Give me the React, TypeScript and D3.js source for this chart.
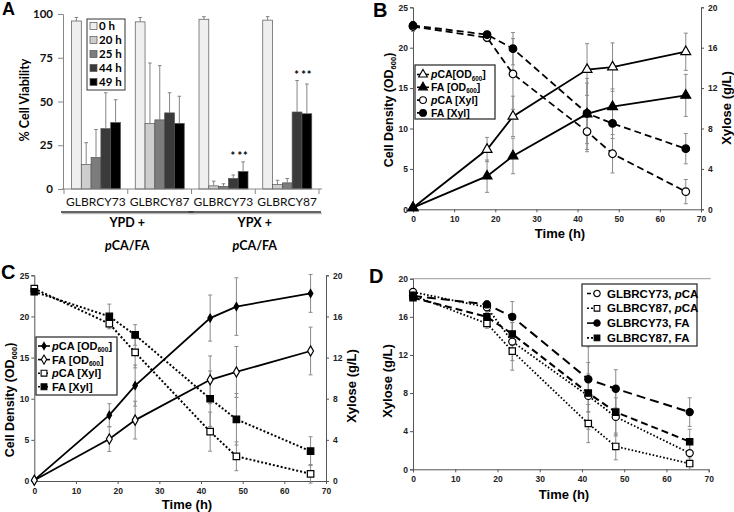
import React, { useEffect, useRef } from "react";
import * as d3 from "d3";

// ---- panel A: cell viability ----
const strainLabels = ["GLBRCY73", "GLBRCY87", "GLBRCY73", "GLBRCY87"];
const timeLabels = ["0 h", "20 h", "25 h", "44 h", "49 h"];
const viability = [
  [96, 14, 18, 34.5, 38],
  [95.5, 37.5, 39.5, 43.5, 37.5],
  [97, 1.8, 1.5, 6, 10],
  [96.5, 2.5, 3.5, 44, 43],
];
const viabilityErrTop = [
  [98, 26.5, 34, 55, 51],
  [98, 72, 70.5, 55, 53],
  [98.5, 4.5, 3, 8, 15.5],
  [98.5, 5, 6, 62, 60],
];
const barColors = ["#efefef", "#cdcdcd", "#7c7c7c", "#3a3a3a", "#000000"];
const starGroups = [2, 3];
const starText = ["", "", "", "*", "**"];
const mediaLabels = [["YPD +", "pCA/FA"], ["YPX +", "pCA/FA"]];
const viabilityTicks = [0, 25, 50, 75, 100];

// ---- panel B ----
const timeB = [0, 18, 24.3, 42.3, 48.5, 66.3];
const odB_pCA = [0.2, 7.4, 11.5, 17.3, 17.6, 19.5];
const odB_pCA_err = [0, 1.5, 2.5, 3.2, 3.0, 2.3];
const odB_FA = [0.2, 4.1, 6.6, 11.8, 12.7, 14.1];
const odB_FA_err = [0, 2.0, 2.2, 4.4, 2.2, 2.6];
const xylB_pCA = [18.1, 17.0, 13.4, 7.7, 5.5, 1.75];
const xylB_pCA_err = [0.5, 0.4, 3.5, 2.0, 1.9, 1.2];
const xylB_FA = [18.2, 17.3, 15.9, 9.5, 8.5, 6.0];
const xylB_FA_err = [0.4, 0.3, 1.6, 3.0, 1.5, 1.5];

// ---- panel C ----
const timeC = [0, 18, 24.2, 42.2, 48.5, 66.3];
const odC_pCA = [0.1, 8.0, 11.6, 19.8, 21.2, 22.8];
const odC_pCA_err = [0, 1.4, 2.5, 2.8, 3.5, 2.3];
const odC_FA = [0.1, 5.1, 7.4, 12.3, 13.25, 15.8];
const odC_FA_err = [0, 1.5, 2.3, 2.9, 3.1, 2.9];
const xylC_pCA = [18.7, 15.3, 12.5, 4.8, 2.4, 0.7];
const xylC_pCA_err = [0.3, 0.4, 1.5, 1.9, 1.4, 0.9];
const xylC_FA = [18.4, 16.0, 14.2, 8.0, 6.0, 2.9];
const xylC_FA_err = [0.3, 1.2, 1.0, 2.7, 2.5, 1.4];

// ---- panel D ----
const timeD = [0, 17.5, 23.5, 41.5, 48, 65.5];
const xylD_73pCA = [18.6, 17.0, 13.4, 7.7, 5.5, 1.7];
const xylD_73pCA_err = [0.3, 0.5, 2.0, 3.5, 2.0, 1.0];
const xylD_87pCA = [18.25, 15.3, 12.4, 4.8, 2.4, 0.6];
const xylD_87pCA_err = [0.4, 0.5, 2.0, 2.0, 1.4, 0.6];
const xylD_73FA = [18.2, 17.3, 16.0, 9.45, 8.45, 6.0];
const xylD_73FA_err = [0.5, 0.4, 1.6, 3.4, 2.0, 1.5];
const xylD_87FA = [18.0, 16.0, 14.2, 8.0, 6.0, 2.9];
const xylD_87FA_err = [0.3, 0.4, 1.2, 2.0, 2.4, 1.3];

const timeTicks = [0, 10, 20, 30, 40, 50, 60, 70];
const odTicks = [0, 5, 10, 15, 20, 25];
const xylTicks = [0, 4, 8, 12, 16, 20];

type Seg = { t: string; i?: boolean; s?: boolean };
const od600: Seg[] = [{ t: "OD" }, { t: "600", s: true }];

const SANS = "Liberation Sans, Arial, sans-serif";

function rich(sel: any, segs: Seg[], size: number) {
  let shift = 0;
  segs.forEach((sg) => {
    const ts = sel.append("tspan").text(sg.t);
    if (sg.i) ts.attr("font-style", "italic");
    const want = sg.s ? size * 0.22 : 0;
    if (want !== shift) {
      ts.attr("dy", want - shift);
      shift = want;
    }
    if (sg.s) ts.attr("font-size", size * 0.6);
  });
}

function linePanel(root: any, o: any) {
  const g = root.append("g");
  const x = d3.scaleLinear().domain([0, 70]).range(o.xr);
  const yl = d3.scaleLinear().domain(o.ld).range(o.yr);
  const yr = o.rd ? d3.scaleLinear().domain(o.rd).range(o.yr) : null;

  if (o.grid) {
    g.append("line")
      .attr("x1", o.xr[0]).attr("x2", o.xr[1] + 2)
      .attr("y1", o.yr[1]).attr("y2", o.yr[1])
      .attr("stroke", "#999").attr("stroke-width", 1);
  }

  const styleAxis = (a: any, size: number) => {
    a.selectAll("path,line").attr("stroke", "#555");
    a.selectAll("text").attr("font-family", SANS).attr("font-weight", "bold")
      .attr("font-size", size).attr("fill", "#222");
  };

  const ax = g.append("g").attr("transform", `translate(0,${o.yr[0]})`)
    .call(d3.axisBottom(x).tickValues(timeTicks).tickSizeOuter(0).tickSize(3).tickPadding(4));
  styleAxis(ax, 8.5);
  const ay = g.append("g").attr("transform", `translate(${o.xr[0]},0)`)
    .call(d3.axisLeft(yl).tickValues(o.lt).tickSizeOuter(0).tickSize(3).tickPadding(2));
  styleAxis(ay, 8.5);
  if (yr) {
    const ar = g.append("g").attr("transform", `translate(${o.xr[1]},0)`)
      .call(d3.axisRight(yr).tickValues(o.rt).tickSizeOuter(0).tickSize(3).tickPadding(4));
    styleAxis(ar, 8.5);
  }

  const symFor = (s: any) => d3.symbol().type(s.sym).size(s.size)();

  o.series.forEach((s: any) => {
    const y = s.right ? yr! : yl;
    const eg = g.append("g").attr("stroke", "#8a8a8a").attr("stroke-width", 1);
    s.vals.forEach((v: number, i: number) => {
      const e = s.errs[i];
      if (!e) return;
      const cx = x(s.times[i]);
      eg.append("line").attr("x1", cx).attr("x2", cx).attr("y1", y(v - e)).attr("y2", y(v + e));
      [v - e, v + e].forEach((yy) =>
        eg.append("line").attr("x1", cx - 2).attr("x2", cx + 2).attr("y1", y(yy)).attr("y2", y(yy)));
    });
  });

  o.series.forEach((s: any) => {
    const y = s.right ? yr! : yl;
    const line = d3.line<number>().x((_, i) => x(s.times[i])).y((v) => y(v));
    g.append("path").attr("d", line(s.vals)).attr("fill", "none")
      .attr("stroke", "#000").attr("stroke-width", s.width || 1.8)
      .attr("stroke-dasharray", s.dash || null);
  });

  o.series.forEach((s: any) => {
    const y = s.right ? yr! : yl;
    g.append("g").selectAll("path").data(s.vals).join("path")
      .attr("d", symFor(s))
      .attr("transform", (v: number, i: number) => `translate(${x(s.times[i])},${y(v)})`)
      .attr("fill", s.fill).attr("stroke", "#000").attr("stroke-width", 1.2);
  });

  // legend
  const L = o.legend;
  g.append("rect").attr("x", L.x).attr("y", L.y).attr("width", L.w).attr("height", L.h)
    .attr("fill", "#fff").attr("stroke", "#333").attr("stroke-width", 1.3);
  o.series.forEach((s: any, i: number) => {
    const cy = L.y + L.first + i * L.step;
    g.append("line").attr("x1", L.x + L.lx0).attr("x2", L.x + L.lx1).attr("y1", cy).attr("y2", cy)
      .attr("stroke", "#000").attr("stroke-width", 1.6).attr("stroke-dasharray", s.ldash || null);
    g.append("path").attr("d", d3.symbol().type(s.sym).size(s.size * 0.8)())
      .attr("transform", `translate(${L.x + L.mx},${cy})`)
      .attr("fill", s.fill).attr("stroke", "#000").attr("stroke-width", 1.1);
    const t = g.append("text").attr("x", L.x + L.tx).attr("y", cy + L.fs * 0.36)
      .attr("font-family", SANS).attr("font-weight", "bold").attr("font-size", L.fs);
    rich(t, s.label, L.fs);
  });

  // titles
  const tt = o.titles;
  g.append("text").attr("x", tt.x[0]).attr("y", tt.x[1]).attr("text-anchor", "middle")
    .attr("font-family", SANS).attr("font-weight", "bold").attr("font-size", 13).text("Time (h)");
  const lt = g.append("text").attr("transform", `translate(${tt.l[0]},${tt.l[1]}) rotate(-90)`)
    .attr("text-anchor", "middle").attr("font-family", SANS).attr("font-weight", "bold").attr("font-size", tt.lfs);
  rich(lt, tt.lsegs, tt.lfs);
  if (tt.r) {
    g.append("text").attr("transform", `translate(${tt.r[0]},${tt.r[1]}) rotate(-90)`)
      .attr("text-anchor", "middle").attr("font-family", SANS).attr("font-weight", "bold")
      .attr("font-size", 13).text("Xylose (g/L)");
  }
  g.append("text").attr("x", o.letter[0]).attr("y", o.letter[1]).attr("font-family", SANS)
    .attr("font-weight", "bold").attr("font-size", 20).text(o.letter[2]);
}

function panelA(root: any) {
  const g = root.append("g");
  const FONT = "Lato, Liberation Sans, sans-serif";
  const x0 = d3.scaleBand<number>().domain(d3.range(strainLabels.length)).range([64, 319]);
  const x1 = d3.scaleBand<number>().domain(d3.range(timeLabels.length)).range([7.5, 56.5]);
  const y = d3.scaleLinear().domain([0, 100]).range([189, 14]);

  const ay = g.append("g").attr("transform", "translate(63,0)")
    .call(d3.axisLeft(y).tickValues(viabilityTicks).tickSizeOuter(0).tickSize(5).tickPadding(5));
  ay.selectAll("path,line").attr("stroke", "#888");
  ay.selectAll("text").attr("font-family", FONT).attr("font-weight", "bold").attr("font-size", 11.5).attr("fill", "#111");

  viability.forEach((grp, gi) => {
    grp.forEach((v, ti) => {
      const bx = x0(gi)! + x1(ti)!;
      const bw = x1.bandwidth();
      g.append("rect").attr("x", bx).attr("y", y(v)).attr("width", bw).attr("height", y(0) - y(v))
        .attr("fill", barColors[ti]).attr("stroke", "#555").attr("stroke-width", 0.7);
      const cx = bx + bw / 2;
      const et = viabilityErrTop[gi][ti];
      g.append("line").attr("x1", cx).attr("x2", cx).attr("y1", y(v)).attr("y2", y(et))
        .attr("stroke", "#777").attr("stroke-width", 0.9);
      g.append("line").attr("x1", cx - 1.8).attr("x2", cx + 1.8).attr("y1", y(et)).attr("y2", y(et))
        .attr("stroke", "#777").attr("stroke-width", 0.9);
    });
  });

  starGroups.forEach((gi) => {
    const top = d3.max(viabilityErrTop[gi].slice(3))!;
    starText.forEach((s, ti) => {
      if (!s) return;
      g.append("text").attr("x", x0(gi)! + x1(ti)! + x1.bandwidth() / 2).attr("y", y(top + 1))
        .attr("text-anchor", "middle").attr("font-family", FONT).attr("font-weight", "bold")
        .attr("font-size", 11).attr("letter-spacing", 1).text(s);
    });
  });

  // x axis baseline and group separators
  g.append("line").attr("x1", 62).attr("x2", 322).attr("y1", 189).attr("y2", 189)
    .attr("stroke", "#888").attr("stroke-width", 1);
  d3.range(strainLabels.length + 1).forEach((i) => {
    const xx = 64 + i * x0.bandwidth();
    g.append("line").attr("x1", xx).attr("x2", xx).attr("y1", 189).attr("y2", 194)
      .attr("stroke", "#888");
  });
  strainLabels.forEach((s, i) => {
    g.append("text").attr("x", x0(i)! + x0.bandwidth() / 2).attr("y", 206)
      .attr("text-anchor", "middle").attr("font-family", FONT).attr("font-size", 12).attr("fill", "#111").text(s);
  });

  mediaLabels.forEach((lab, i) => {
    const xa = x0(i * 2)! - 3;
    const xb = x0(i * 2 + 1)! + x0.bandwidth() + 2;
    g.append("line").attr("x1", xa + 1).attr("x2", xb + 1).attr("y1", 213.5).attr("y2", 213.5)
      .attr("stroke", "#bbb").attr("stroke-width", 1.5);
    g.append("line").attr("x1", xa).attr("x2", xb).attr("y1", 212).attr("y2", 212)
      .attr("stroke", "#333").attr("stroke-width", 1.5);
    const cx = (xa + xb) / 2;
    g.append("text").attr("x", cx).attr("y", 227).attr("text-anchor", "middle")
      .attr("font-family", FONT).attr("font-weight", "bold").attr("font-size", 12.5).text(lab[0]);
    const t = g.append("text").attr("x", cx).attr("y", 250).attr("text-anchor", "middle")
      .attr("font-family", FONT).attr("font-weight", "bold").attr("font-size", 12.5);
    rich(t, [{ t: "p", i: true }, { t: lab[1].slice(1) }], 12.5);
  });

  // legend
  g.append("rect").attr("x", 87).attr("y", 19).attr("width", 38).attr("height", 71)
    .attr("fill", "#fff").attr("stroke", "#333").attr("stroke-width", 1);
  timeLabels.forEach((t, i) => {
    const cy = 26 + i * 14;
    g.append("rect").attr("x", 90).attr("y", cy - 3.5).attr("width", 7).attr("height", 7)
      .attr("fill", barColors[i]).attr("stroke", "#555").attr("stroke-width", 0.7);
    g.append("text").attr("x", 99).attr("y", cy + 4).attr("font-family", FONT)
      .attr("font-weight", "bold").attr("font-size", 11.5).text(t);
  });

  g.append("text").attr("transform", "translate(29,100) rotate(-90)").attr("text-anchor", "middle")
    .attr("font-family", FONT).attr("font-weight", "bold").attr("font-size", 12.5).text("% Cell Viability");
  g.append("text").attr("x", 2).attr("y", 15).attr("font-family", SANS).attr("font-weight", "bold")
    .attr("font-size", 18).text("A");
}

export default function App() {
  const svgRef = useRef<SVGSVGElement>(null);

  useEffect(() => {
    const svg = d3.select(svgRef.current);
    svg.selectAll("*").remove();
    svg.append("rect").attr("width", 734).attr("height", 512).attr("fill", "#fff");

    panelA(svg);

    linePanel(svg, {
      xr: [413, 701], yr: [209.3, 7.3], ld: [0, 25], rd: [0, 20], lt: odTicks, rt: xylTicks,
      series: [
        { times: timeB, vals: odB_pCA, errs: odB_pCA_err, sym: d3.symbolTriangle, size: 42, fill: "#fff",
          label: [{ t: "p", i: true }, { t: "CA[" }, ...od600, { t: "]" }] },
        { times: timeB, vals: odB_FA, errs: odB_FA_err, sym: d3.symbolTriangle, size: 42, fill: "#000",
          label: [{ t: "FA [" }, ...od600, { t: "]" }] },
        { times: timeB, vals: xylB_pCA, errs: xylB_pCA_err, right: true, sym: d3.symbolCircle, size: 45, fill: "#fff",
          dash: "7,4", ldash: "4,2", label: [{ t: "p", i: true }, { t: "CA [Xyl]" }] },
        { times: timeB, vals: xylB_FA, errs: xylB_FA_err, right: true, sym: d3.symbolCircle, size: 45, fill: "#000",
          dash: "7,4", ldash: "4,2", label: [{ t: "FA [Xyl]" }] },
      ],
      legend: { x: 415, y: 65, w: 80, h: 54, first: 9.5, step: 12.8, lx0: 2, lx1: 14, mx: 8, tx: 16, fs: 10.5 },
      titles: { x: [560, 238], l: [393, 110], lfs: 12.5,
        lsegs: [{ t: "Cell Density (" }, ...od600, { t: ")" }], r: [731, 108] },
      letter: [373, 17, "B"],
    });

    linePanel(svg, {
      xr: [34.3, 326], yr: [481, 275.3], ld: [0, 25], rd: [0, 20], lt: odTicks, rt: xylTicks,
      series: [
        { times: timeC, vals: odC_pCA, errs: odC_pCA_err, sym: d3.symbolDiamond, size: 18, fill: "#000",
          label: [{ t: "p", i: true }, { t: "CA [" }, ...od600, { t: "]" }] },
        { times: timeC, vals: odC_FA, errs: odC_FA_err, sym: d3.symbolDiamond, size: 30, fill: "#fff",
          label: [{ t: "FA [" }, ...od600, { t: "]" }] },
        { times: timeC, vals: xylC_pCA, errs: xylC_pCA_err, right: true, sym: d3.symbolSquare, size: 42, fill: "#fff",
          dash: "2,2", ldash: "2,2", width: 2, label: [{ t: "p", i: true }, { t: "CA [Xyl]" }] },
        { times: timeC, vals: xylC_FA, errs: xylC_FA_err, right: true, sym: d3.symbolSquare, size: 42, fill: "#000",
          dash: "2,2", ldash: "2,2", width: 2, label: [{ t: "FA [Xyl]" }] },
      ],
      legend: { x: 36, y: 337, w: 81, h: 58, first: 9, step: 13.6, lx0: 2, lx1: 14, mx: 8, tx: 16, fs: 11 },
      titles: { x: [187, 509], l: [14, 400], lfs: 12.5,
        lsegs: [{ t: "Cell Density (" }, ...od600, { t: ")" }], r: [356, 386] },
      letter: [1, 279, "C"],
    });

    linePanel(svg, {
      xr: [413, 708.7], yr: [469.3, 278.7], ld: [0, 20], lt: xylTicks, grid: true,
      series: [
        { times: timeD, vals: xylD_73pCA, errs: xylD_73pCA_err, sym: d3.symbolCircle, size: 40, fill: "#fff",
          dash: "1.6,2", width: 1.8, ldash: "4,2", label: [{ t: "GLBRCY73, " }, { t: "p", i: true }, { t: "CA" }] },
        { times: timeD, vals: xylD_87pCA, errs: xylD_87pCA_err, sym: d3.symbolSquare, size: 40, fill: "#fff",
          dash: "1.6,2", width: 1.8, ldash: "2,2", label: [{ t: "GLBRCY87, " }, { t: "p", i: true }, { t: "CA" }] },
        { times: timeD, vals: xylD_73FA, errs: xylD_73FA_err, sym: d3.symbolCircle, size: 40, fill: "#000",
          dash: "9,5", width: 2, ldash: null, label: [{ t: "GLBRCY73, FA" }] },
        { times: timeD, vals: xylD_87FA, errs: xylD_87FA_err, sym: d3.symbolSquare, size: 40, fill: "#000",
          dash: "7,4", width: 2, ldash: "2,2", label: [{ t: "GLBRCY87, FA" }] },
      ],
      legend: { x: 582, y: 284, w: 115, h: 62, first: 9.5, step: 14.8, lx0: 5, lx1: 18, mx: 15, tx: 25, fs: 11.5 },
      titles: { x: [564, 499], l: [392, 381], lfs: 13, lsegs: [{ t: "Xylose (g/L)" }] },
      letter: [369, 283, "D"],
    });
  }, []);

  return (
    <div>
      <svg ref={svgRef} width={734} height={512} style={{ position: "absolute", left: 0, top: 0 }} />
    </div>
  );
}
